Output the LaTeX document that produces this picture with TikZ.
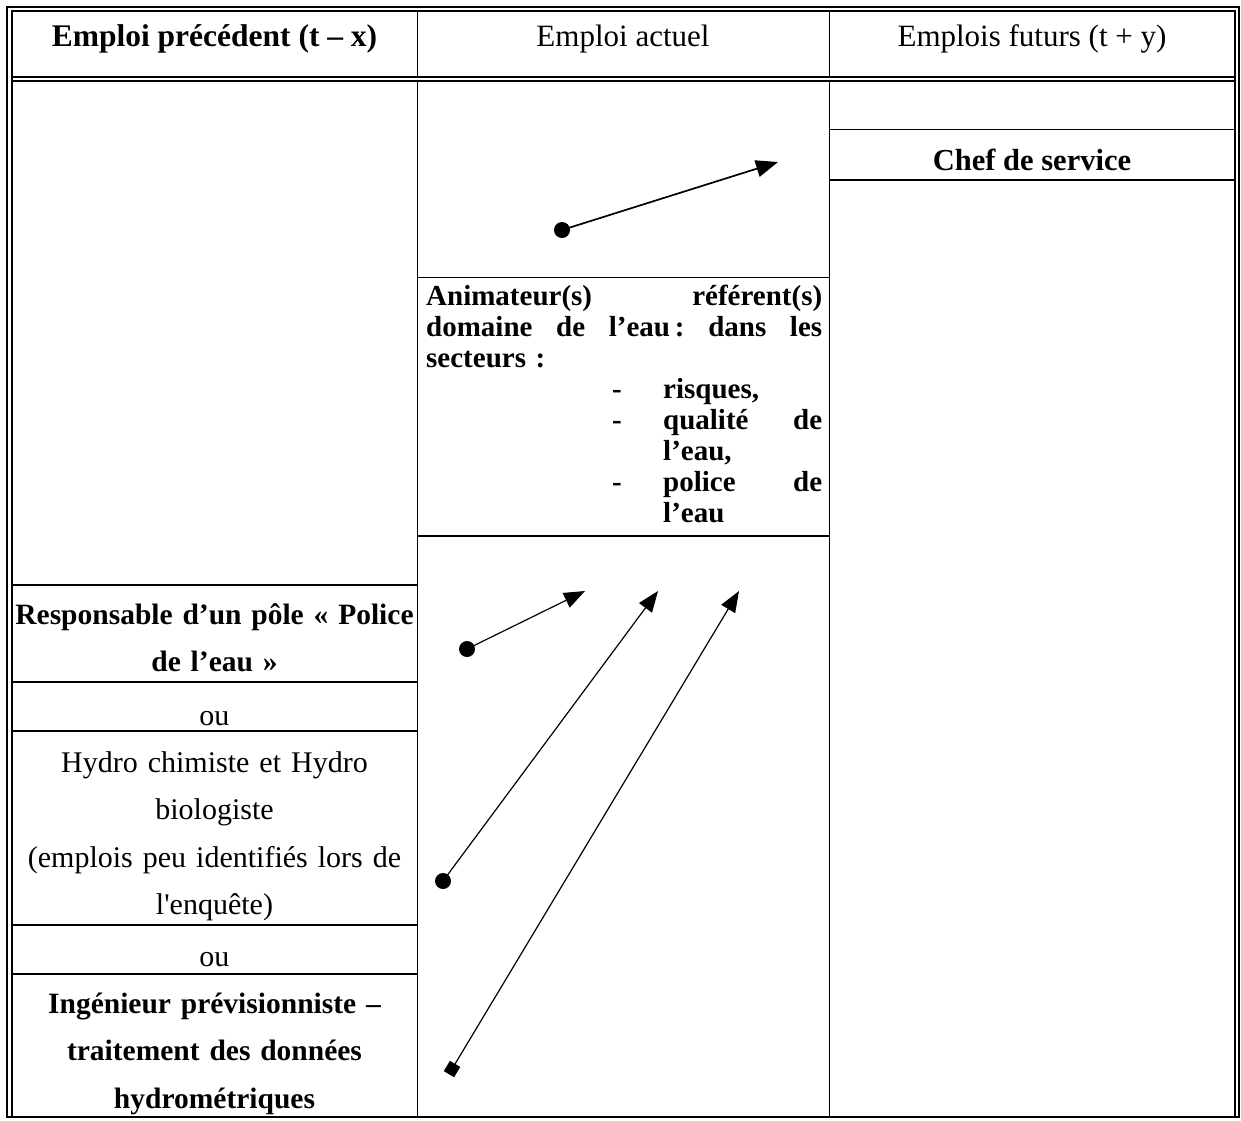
\documentclass[tikz,border=0pt]{standalone}
\usepackage{fontspec}
\setmainfont{Liberation Serif}
\newfontfamily\rawserif{Liberation Serif}
\usetikzlibrary{arrows.meta}
\begin{document}
\begin{tikzpicture}[x=1pt,y=-1pt,
  tline/.style={line width=1.8pt, line cap=rect},
  hdr/.style={anchor=base, inner sep=0pt, font=\fontsize{31}{36}\selectfont},
  hdrb/.style={hdr, font=\fontsize{31.5}{36}\selectfont\bfseries},
  chefb/.style={hdr, font=\fontsize{30.5}{36}\selectfont\bfseries},
  cell/.style={anchor=base, inner sep=0pt, text width=404pt, align=center, font=\fontsize{30}{47.5}\selectfont},
  cellb/.style={cell, font=\fontsize{29.5}{47.5}\selectfont\bfseries},
  anim/.style={anchor=base west, inner sep=0pt, text width=396pt, align=left, font=\fontsize{29}{31}\selectfont\bfseries},
  dotstart/.style={circle, fill=black, inner sep=0pt, minimum size=16pt},
  sqstart/.style={rectangle, fill=black, inner sep=0pt, minimum size=12pt},
  link/.style={line width=1.2pt, -{Triangle[length=21pt,width=16pt]}},
  linkthick/.style={line width=1.7pt, -{Triangle[length=22pt,width=17pt]}}
]
\useasboundingbox[fill=white] (0,0) rectangle (1241,1120);

% frame and rules
\draw[tline] (7,7) rectangle (1239,1117);
\draw[tline] (12,1117) -- (12,11) -- (1235,11) -- (1235,1117);
\draw[tline] (12,77) -- (1235,77);
\draw[tline] (12,81) -- (1235,81);
\draw[tline] (417.5,11) -- (417.5,77);
\draw[tline] (417.5,81) -- (417.5,1117);
\draw[tline] (829.5,11) -- (829.5,77);
\draw[tline] (829.5,81) -- (829.5,1117);
\draw[tline] (829.5,129.5) -- (1235,129.5);
\draw[tline] (829.5,180) -- (1235,180);
\draw[tline] (417.5,277.5) -- (829.5,277.5);
\draw[tline] (417.5,536) -- (829.5,536);
\draw[tline] (12,585) -- (417.5,585);
\draw[tline] (12,682) -- (417.5,682);
\draw[tline] (12,731) -- (417.5,731);
\draw[tline] (12,925) -- (417.5,925);
\draw[tline] (12,974) -- (417.5,974);

% headers
\node[hdrb] (h1) at (214.5,46) {Emploi précédent (t – x)};
\node[hdr] (h2) at (623,46) {Emploi actuel};
\node[hdr] (h3) at (1032,46) {Emplois futurs (t + y)};

% right column
\node[chefb] (chef) at (1032,170) {Chef de service};

% middle column
\node[anim] (anim) at (426,305) {%
\makebox[396pt][l]{Animateur(s)\hfill référent(s)}\\
\makebox[396pt][l]{domaine\hfill de\hfill l’eau\,:\hfill dans\hfill les}\\
secteurs :\\
\hspace*{186pt}\makebox[51pt][l]{-}risques,\\
\hspace*{186pt}\makebox[51pt][l]{-}\makebox[159pt][l]{qualité\hfill de}\\
\hspace*{237pt}l’eau,\\
\hspace*{186pt}\makebox[51pt][l]{-}\makebox[159pt][l]{police\hfill de}\\
\hspace*{237pt}l’eau};

% left column
\node[cellb] (resp) at (214.5,624) {Responsable d’un pôle « Police\\de l’eau »};
\node[cell] (ou1) at (214.5,725) {ou};
\node[cell] (hydro) at (214.5,772) {Hydro chimiste et Hydro\\biologiste\\(emplois peu identifiés lors de\\{\rawserif l'enquête)}};
\node[cell] (ou2) at (214.5,966) {ou};
\node[cellb] (ing) at (214.5,1013) {Ingénieur prévisionniste –\\traitement des données\\hydrométriques};

% connectors
\coordinate (e0) at (778,162);
\coordinate (e1) at (585,591);
\coordinate (e2) at (658,591);
\coordinate (e3) at (739,591);
\node[dotstart] (d0) at (562,230) {};
\node[dotstart] (d1) at (467,649) {};
\node[dotstart] (d2) at (443,881) {};
\node[sqstart, rotate=59] (s3) at (452,1069) {};
\draw[linkthick] (d0.center) -- (e0);
\draw[link] (d1.center) -- (e1);
\draw[link] (d2.center) -- (e2);
\draw[link] (s3.center) -- (e3);
\end{tikzpicture}
\end{document}
